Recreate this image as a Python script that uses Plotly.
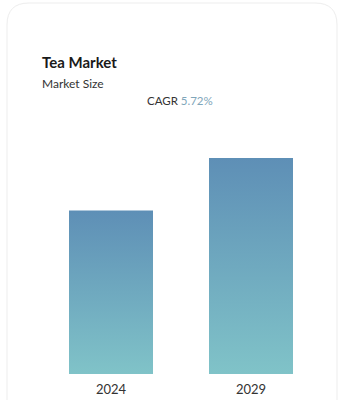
import plotly.graph_objects as go

# Data
years = ["2024", "2029"]
market_size = [23.34, 30.83]  # USD billion (estimated)
cagr_text = "5.72%"
title = "Tea Market"
subtitle = "Market Size"

W, H = 342, 400
ML, MR, MT, MB = 41, 21, 120, 26
pw, ph = W - ML - MR, H - MT - MB
ymax = 36.25
bar_w = 0.6

def px_to_paper(px, py):
    return (px - ML) / pw, (H - MB - py) / ph

fig = go.Figure()
for i, (yr, v) in enumerate(zip(years, market_size)):
    fig.add_trace(go.Scatter(
        x=[i - bar_w / 2, i - bar_w / 2, i + bar_w / 2, i + bar_w / 2, i - bar_w / 2],
        y=[0, v, v, 0, 0],
        mode="lines", line=dict(width=0),
        fill="toself",
        fillgradient=dict(type="vertical",
                          colorscale=[[0, "#80C3C8"], [1, "#5E8FB6"]]),
        hoverinfo="skip", showlegend=False,
    ))

# card border
x0, ytop = px_to_paper(7, 3)
x1, _ = px_to_paper(337, 3)
_, ybot = px_to_paper(7, 420)
r = 22
rx, ry = r / pw, r / ph
path = (f"M {x0},{ybot} L {x0},{ytop - ry} Q {x0},{ytop} {x0 + rx},{ytop} "
        f"L {x1 - rx},{ytop} Q {x1},{ytop} {x1},{ytop - ry} L {x1},{ybot}")
fig.add_shape(type="path", path=path, xref="paper", yref="paper",
              line=dict(color="#EDEDED", width=1), layer="below")

tx, ty = px_to_paper(40, 62)
fig.add_annotation(x=tx, y=ty, xref="paper", yref="paper", text=f"<b>{title}</b>",
                   showarrow=False, xanchor="left", yanchor="middle",
                   font=dict(family="Lato", size=15, color="#1a1a1a"))
tx, ty = px_to_paper(40, 83)
fig.add_annotation(x=tx, y=ty, xref="paper", yref="paper", text=subtitle,
                   showarrow=False, xanchor="left", yanchor="middle",
                   font=dict(family="Lato", size=12, color="#333333"))
tx, ty = px_to_paper(180, 101)
fig.add_annotation(x=tx, y=ty, xref="paper", yref="paper",
                   text=f"CAGR <span style='color:#7FA6BA'>{cagr_text}</span>",
                   showarrow=False, xanchor="center", yanchor="middle",
                   font=dict(family="Lato", size=11.5, color="#333333"))

fig.update_layout(
    width=W, height=H,
    margin=dict(l=ML, r=MR, t=MT, b=MB, autoexpand=False),
    paper_bgcolor="white", plot_bgcolor="white",
    xaxis=dict(range=[-0.5, 1.5], tickvals=list(range(len(years))), ticktext=years,
               showgrid=False, zeroline=False, showline=False, ticks="",
               ticklabelstandoff=6, automargin=False,
               tickfont=dict(family="Lato", size=13, color="#333333"), fixedrange=True),
    yaxis=dict(range=[0, ymax], visible=False, fixedrange=True),
)
fig.write_html("out.html", config={"displayModeBar": False})
